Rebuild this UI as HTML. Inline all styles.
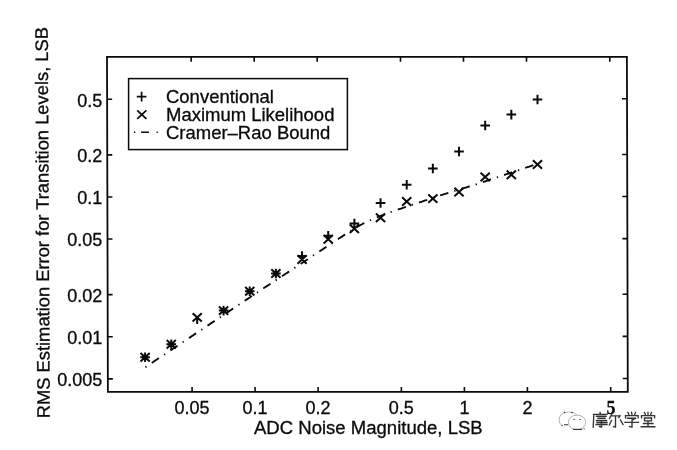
<!DOCTYPE html><html><head><meta charset="utf-8"><style>html,body{margin:0;padding:0;background:#fff;overflow:hidden}svg{display:block;filter:grayscale(1)}</style></head><body><svg width="677" height="450" viewBox="0 0 677 450"><rect width="677" height="450" fill="#fff"/><path d="M107.00 56.8L626.90 56.8L627.8 391.9L107.9 391.9Z" fill="none" stroke="#0a0a0a" stroke-width="1.8"/><path d="M192.07 391.9v-5.0M191.17 56.8v5.0M255.08 391.9v-5.0M254.18 56.8v5.0M318.09 391.9v-5.0M317.19 56.8v5.0M401.38 391.9v-5.0M400.48 56.8v5.0M464.39 391.9v-5.0M463.49 56.8v5.0M527.40 391.9v-5.0M526.50 56.8v5.0M610.69 391.9v-5.0M609.79 56.8v5.0M107.86 378.84h5.0M627.76 378.44h-5.0M107.75 336.75h5.0M627.65 336.35h-5.0M107.64 294.66h5.0M627.54 294.26h-5.0M107.49 239.03h5.0M627.39 238.63h-5.0M107.38 196.94h5.0M627.28 196.54h-5.0M107.26 154.85h5.0M627.16 154.45h-5.0M107.11 99.22h5.0M627.01 98.82h-5.0" stroke="#0a0a0a" stroke-width="1.6" fill="none"/><g font-family='"Liberation Sans", sans-serif' font-size="18" fill="#0a0a0a" stroke="#0a0a0a" stroke-width="0.3"><text x="192.07" y="413.50" text-anchor="middle" >0.05</text><text x="255.08" y="413.50" text-anchor="middle" >0.1</text><text x="318.09" y="413.50" text-anchor="middle" >0.2</text><text x="401.38" y="413.50" text-anchor="middle" >0.5</text><text x="464.39" y="413.50" text-anchor="middle" >1</text><text x="527.40" y="413.50" text-anchor="middle" >2</text><text x="102.30" y="386.24" text-anchor="end" >0.005</text><text x="102.30" y="344.15" text-anchor="end" >0.01</text><text x="102.30" y="302.06" text-anchor="end" >0.02</text><text x="102.30" y="246.43" text-anchor="end" >0.05</text><text x="102.30" y="204.34" text-anchor="end" >0.1</text><text x="102.30" y="162.25" text-anchor="end" >0.2</text><text x="102.30" y="106.62" text-anchor="end" >0.5</text><text x="611.1" y="414.1" text-anchor="middle" font-family='"Liberation Serif", serif' font-weight="bold" font-size="18">5</text><text transform="translate(166.0 102.7) scale(1.027 1)">Conventional</text><text transform="translate(166.0 120.75) scale(1.027 1)">Maximum Likelihood</text><text transform="translate(166.0 138.6) scale(1.027 1)">Cramer–Rao Bound</text><text x="254.00" y="433.90" text-anchor="start" textLength="228.7" lengthAdjust="spacingAndGlyphs">ADC Noise Magnitude, LSB</text><text transform="translate(49.8 418.3) rotate(-90.3)" x="0" y="0" textLength="391.3" lengthAdjust="spacingAndGlyphs">RMS Estimation Error for Transition Levels, LSB</text></g><rect x="128.6" y="78.6" width="218.8" height="71" fill="none" stroke="#0a0a0a" stroke-width="1.5"/><path d="M136.80 96.60h9.60M141.60 91.80v9.60M137.20 110.40l9.20 8.40M137.20 118.80l9.20 -8.40" stroke="#0a0a0a" stroke-width="1.7" fill="none"/><path d="M140.30 357.30h9.60M145.10 352.50v9.60M140.50 353.10l9.20 8.40M140.50 361.50l9.20 -8.40M166.46 344.30h9.60M171.26 339.50v9.60M166.66 340.10l9.20 8.40M166.66 348.50l9.20 -8.40M197.20 317.40v6.6M192.60 313.20l9.20 8.40M192.60 321.60l9.20 -8.40M218.78 310.60h9.60M223.58 305.80v9.60M218.98 306.40l9.20 8.40M218.98 314.80l9.20 -8.40M244.94 291.20h9.60M249.74 286.40v9.60M245.14 287.00l9.20 8.40M245.14 295.40l9.20 -8.40M271.10 273.50h9.60M275.90 268.70v9.60M271.30 269.30l9.20 8.40M271.30 277.70l9.20 -8.40M297.26 256.00h9.60M302.06 251.20v9.60M297.46 255.30l9.20 8.40M297.46 263.70l9.20 -8.40M323.42 235.70h9.60M328.22 230.90v9.60M323.62 235.10l9.20 8.40M323.62 243.50l9.20 -8.40M349.58 223.50h9.60M354.38 218.70v9.60M349.78 224.60l9.20 8.40M349.78 233.00l9.20 -8.40M375.74 203.00h9.60M380.54 198.20v9.60M375.94 213.60l9.20 8.40M375.94 222.00l9.20 -8.40M401.90 184.70h9.60M406.70 179.90v9.60M402.10 197.30l9.20 8.40M402.10 205.70l9.20 -8.40M428.06 168.50h9.60M432.86 163.70v9.60M428.26 194.40l9.20 8.40M428.26 202.80l9.20 -8.40M454.22 151.50h9.60M459.02 146.70v9.60M454.42 187.80l9.20 8.40M454.42 196.20l9.20 -8.40M480.38 125.50h9.60M485.18 120.70v9.60M480.58 172.80l9.20 8.40M480.58 181.20l9.20 -8.40M506.54 114.60h9.60M511.34 109.80v9.60M506.74 170.60l9.20 8.40M506.74 179.00l9.20 -8.40M532.70 99.50h9.60M537.50 94.70v9.60M532.90 160.30l9.20 8.40M532.90 168.70l9.20 -8.40" stroke="#0a0a0a" stroke-width="2.0" fill="none"/><path d="M145.12 367.34 L146.43 366.47 L147.74 365.60 L149.05 364.72 L150.36 363.85 L151.66 362.97 L152.97 362.10 L154.28 361.22 L155.59 360.35 L156.90 359.48 L158.21 358.60 L159.52 357.73 L160.83 356.85 L162.14 355.98 L163.45 355.10 L164.75 354.23 L166.06 353.36 L167.37 352.48 L168.68 351.61 L169.99 350.73 L171.30 349.86 L172.61 348.98 L173.92 348.11 L175.23 347.23 L176.54 346.36 L177.84 345.49 L179.15 344.61 L180.46 343.74 L181.77 342.86 L183.08 341.99 L184.39 341.11 L185.70 340.24 L187.01 339.37 L188.32 338.49 L189.63 337.62 L190.93 336.74 L192.24 335.87 L193.55 334.99 L194.86 334.12 L196.17 333.24 L197.48 332.37 L198.79 331.50 L200.10 330.62 L201.41 329.75 L202.72 328.87 L204.03 328.00 L205.33 327.12 L206.64 326.25 L207.95 325.38 L209.26 324.50 L210.57 323.63 L211.88 322.75 L213.19 321.88 L214.50 321.00 L215.81 320.13 L217.12 319.25 L218.42 318.38 L219.73 317.51 L221.04 316.63 L222.35 315.76 L223.66 314.88 L224.97 314.01 L226.28 313.13 L227.59 312.26 L228.90 311.39 L230.21 310.51 L231.51 309.64 L232.82 308.76 L234.13 307.89 L235.44 307.01 L236.75 306.14 L238.06 305.27 L239.37 304.39 L240.68 303.52 L241.99 302.64 L243.30 301.77 L244.60 300.89 L245.91 300.02 L247.22 299.14 L248.53 298.27 L249.84 297.40 L251.15 296.52 L252.46 295.65 L253.77 294.77 L255.08 293.90 L256.39 293.02 L257.69 292.15 L259.00 291.28 L260.31 290.41 L261.62 289.55 L262.93 288.69 L264.24 287.83 L265.55 286.97 L266.86 286.12 L268.17 285.26 L269.48 284.40 L270.78 283.54 L272.09 282.68 L273.40 281.83 L274.71 280.97 L276.02 280.11 L277.33 279.25 L278.64 278.39 L279.95 277.54 L281.26 276.68 L282.57 275.82 L283.87 274.96 L285.18 274.10 L286.49 273.25 L287.80 272.39 L289.11 271.53 L290.42 270.67 L291.73 269.81 L293.04 268.96 L294.35 268.10 L295.66 267.24 L296.96 266.38 L298.27 265.52 L299.58 264.67 L300.89 263.80 L302.20 262.93 L303.51 262.06 L304.82 261.19 L306.13 260.32 L307.44 259.45 L308.75 258.58 L310.05 257.70 L311.36 256.83 L312.67 255.96 L313.98 255.09 L315.29 254.22 L316.60 253.35 L317.91 252.48 L319.22 251.61 L320.53 250.74 L321.84 249.87 L323.14 249.00 L324.45 248.13 L325.76 247.26 L327.07 246.39 L328.38 245.52 L329.69 244.65 L331.00 243.78 L332.31 242.92 L333.62 242.05 L334.93 241.18 L336.23 240.31 L337.54 239.45 L338.85 238.58 L340.16 237.72 L341.47 236.86 L342.78 236.00 L344.09 235.15 L345.40 234.29 L346.71 233.44 L348.02 232.60 L349.32 231.76 L350.63 230.93 L351.94 230.11 L353.25 229.29 L354.56 228.49 L355.87 227.70 L357.18 226.92 L358.49 226.16 L359.80 225.42 L361.11 224.70 L362.42 224.00 L363.72 223.32 L365.03 222.66 L366.34 222.03 L367.65 221.41 L368.96 220.82 L370.27 220.25 L371.58 219.66 L372.89 219.08 L374.20 218.52 L375.51 217.98 L376.81 217.44 L378.12 216.92 L379.43 216.40 L380.74 215.89 L382.05 215.39 L383.36 214.90 L384.67 214.40 L385.98 213.91 L387.29 213.43 L388.60 212.94 L389.90 212.46 L391.21 211.98 L392.52 211.50 L393.83 211.02 L395.14 210.55 L396.45 210.11 L397.76 209.67 L399.07 209.23 L400.38 208.79 L401.69 208.35 L402.99 207.91 L404.30 207.48 L405.61 207.04 L406.92 206.60 L408.23 206.16 L409.54 205.72 L410.85 205.29 L412.16 204.85 L413.47 204.41 L414.78 203.97 L416.08 203.54 L417.39 203.10 L418.70 202.66 L420.01 202.23 L421.32 201.79 L422.63 201.35 L423.94 200.91 L425.25 200.48 L426.56 200.04 L427.87 199.60 L429.17 199.16 L430.48 198.73 L431.79 198.29 L433.10 197.85 L434.41 197.42 L435.72 196.98 L437.03 196.54 L438.34 196.10 L439.65 195.67 L440.96 195.23 L442.26 194.79 L443.57 194.36 L444.88 193.92 L446.19 193.52 L447.50 193.12 L448.81 192.72 L450.12 192.32 L451.43 191.93 L452.74 191.53 L454.05 191.13 L455.35 190.73 L456.66 190.33 L457.97 189.94 L459.28 189.54 L460.59 189.14 L461.90 188.74 L463.21 188.34 L464.52 187.95 L465.83 187.55 L467.14 187.15 L468.44 186.75 L469.75 186.35 L471.06 185.96 L472.37 185.56 L473.68 185.16 L474.99 184.76 L476.30 184.32 L477.61 183.89 L478.92 183.45 L480.23 183.01 L481.53 182.57 L482.84 182.13 L484.15 181.69 L485.46 181.25 L486.77 180.81 L488.08 180.37 L489.39 179.93 L490.70 179.49 L492.01 179.05 L493.32 178.61 L494.62 178.18 L495.93 177.74 L497.24 177.30 L498.55 176.86 L499.86 176.42 L501.17 175.98 L502.48 175.54 L503.79 175.10 L505.10 174.66 L506.41 174.22 L507.71 173.78 L509.02 173.34 L510.33 172.91 L511.64 172.47 L512.95 172.03 L514.26 171.59 L515.57 171.15 L516.88 170.71 L518.19 170.27 L519.50 169.83 L520.80 169.39 L522.11 168.95 L523.42 168.51 L524.73 168.07 L526.04 167.64 L527.35 167.20 L528.66 166.76 L529.97 166.32 L531.28 165.88 L532.59 165.44 L533.90 165.00 L535.20 164.56 L536.51 164.12 L537.82 163.68" stroke="#0a0a0a" stroke-width="1.85" fill="none" stroke-dasharray="1.3 6.3 8.6 6.15" stroke-dashoffset="-0.4"/><path d="M134 132.2h1.3M141.1 132.2h7.8M156.5 132.2h1.3" stroke="#0a0a0a" stroke-width="1.5"/><g stroke="#aaa" stroke-width="0.9" fill="none"><path d="M562 425.5 q-3 -2 -3 -5.5 q0 -7 9 -8 q6 -0.5 9 3"/><path d="M568.5 423 q0 -7.5 8 -7.8 q8 0 9 6 q0.5 4 -2 6 l1.5 2.5 l-3 -1.5 q-3 1.5 -8 0.8 q-5 -1 -5.5 -6z"/></g><g fill="#333"><circle cx="564.5" cy="412.5" r="0.8"/><circle cx="572" cy="412.5" r="0.8"/><circle cx="574" cy="419.5" r="0.7"/><circle cx="580" cy="419.5" r="0.7"/><circle cx="562" cy="425.5" r="0.7"/><path d="M564 424.3h4v0.9h-4z M573 429h9v0.9h-9z"/></g><g stroke="#333" stroke-width="1.35" fill="none" stroke-linecap="square"><path d="M593.5 414.4L607.0 414.4M593.8 414.4L593.2 427.2M600.0 412.5L600.5 414.2M596.5 416.2L606.0 416.2M598.0 418.2L605.0 418.2M596.5 420.5L606.5 420.5M597.0 422.5L607.0 422.5M596.0 424.5L607.0 424.5M601.5 420.5L601.5 427.0M601.5 427.0L599.5 426.5M612.2 413.5L609.5 418.5M611.0 415.8L620.0 415.8M620.0 415.8L618.8 417.6M615.5 417.0L615.5 427.0M615.5 427.0L613.5 426.6M611.5 420.5L609.3 425.0M620.5 420.0L623.0 424.5M628.0 412.5L628.8 414.3M631.5 412.3L632.0 414.3M635.5 412.5L634.8 414.3M625.5 415.6L638.2 415.6M625.5 415.6L625.5 417.8M638.2 415.6L638.2 417.8M627.5 418.2L635.5 418.2M635.5 418.2L632.2 420.2M625.0 422.4L638.5 422.4M632.0 420.0L632.0 427.0M632.0 427.0L629.5 426.6M644.5 412.5L645.3 414.3M648.0 412.3L648.0 414.3M651.5 412.5L650.8 414.3M641.5 415.6L654.6 415.6M641.5 415.6L641.5 417.8M654.6 415.6L654.6 417.8M644.5 418.0L651.5 418.0M644.5 418.0L644.5 420.8M651.5 418.0L651.5 420.8M644.5 420.8L651.5 420.8M643.5 423.5L653.0 423.5M648.0 421.0L648.0 426.7M641.2 426.7L654.8 426.7"/></g></svg></body></html>
